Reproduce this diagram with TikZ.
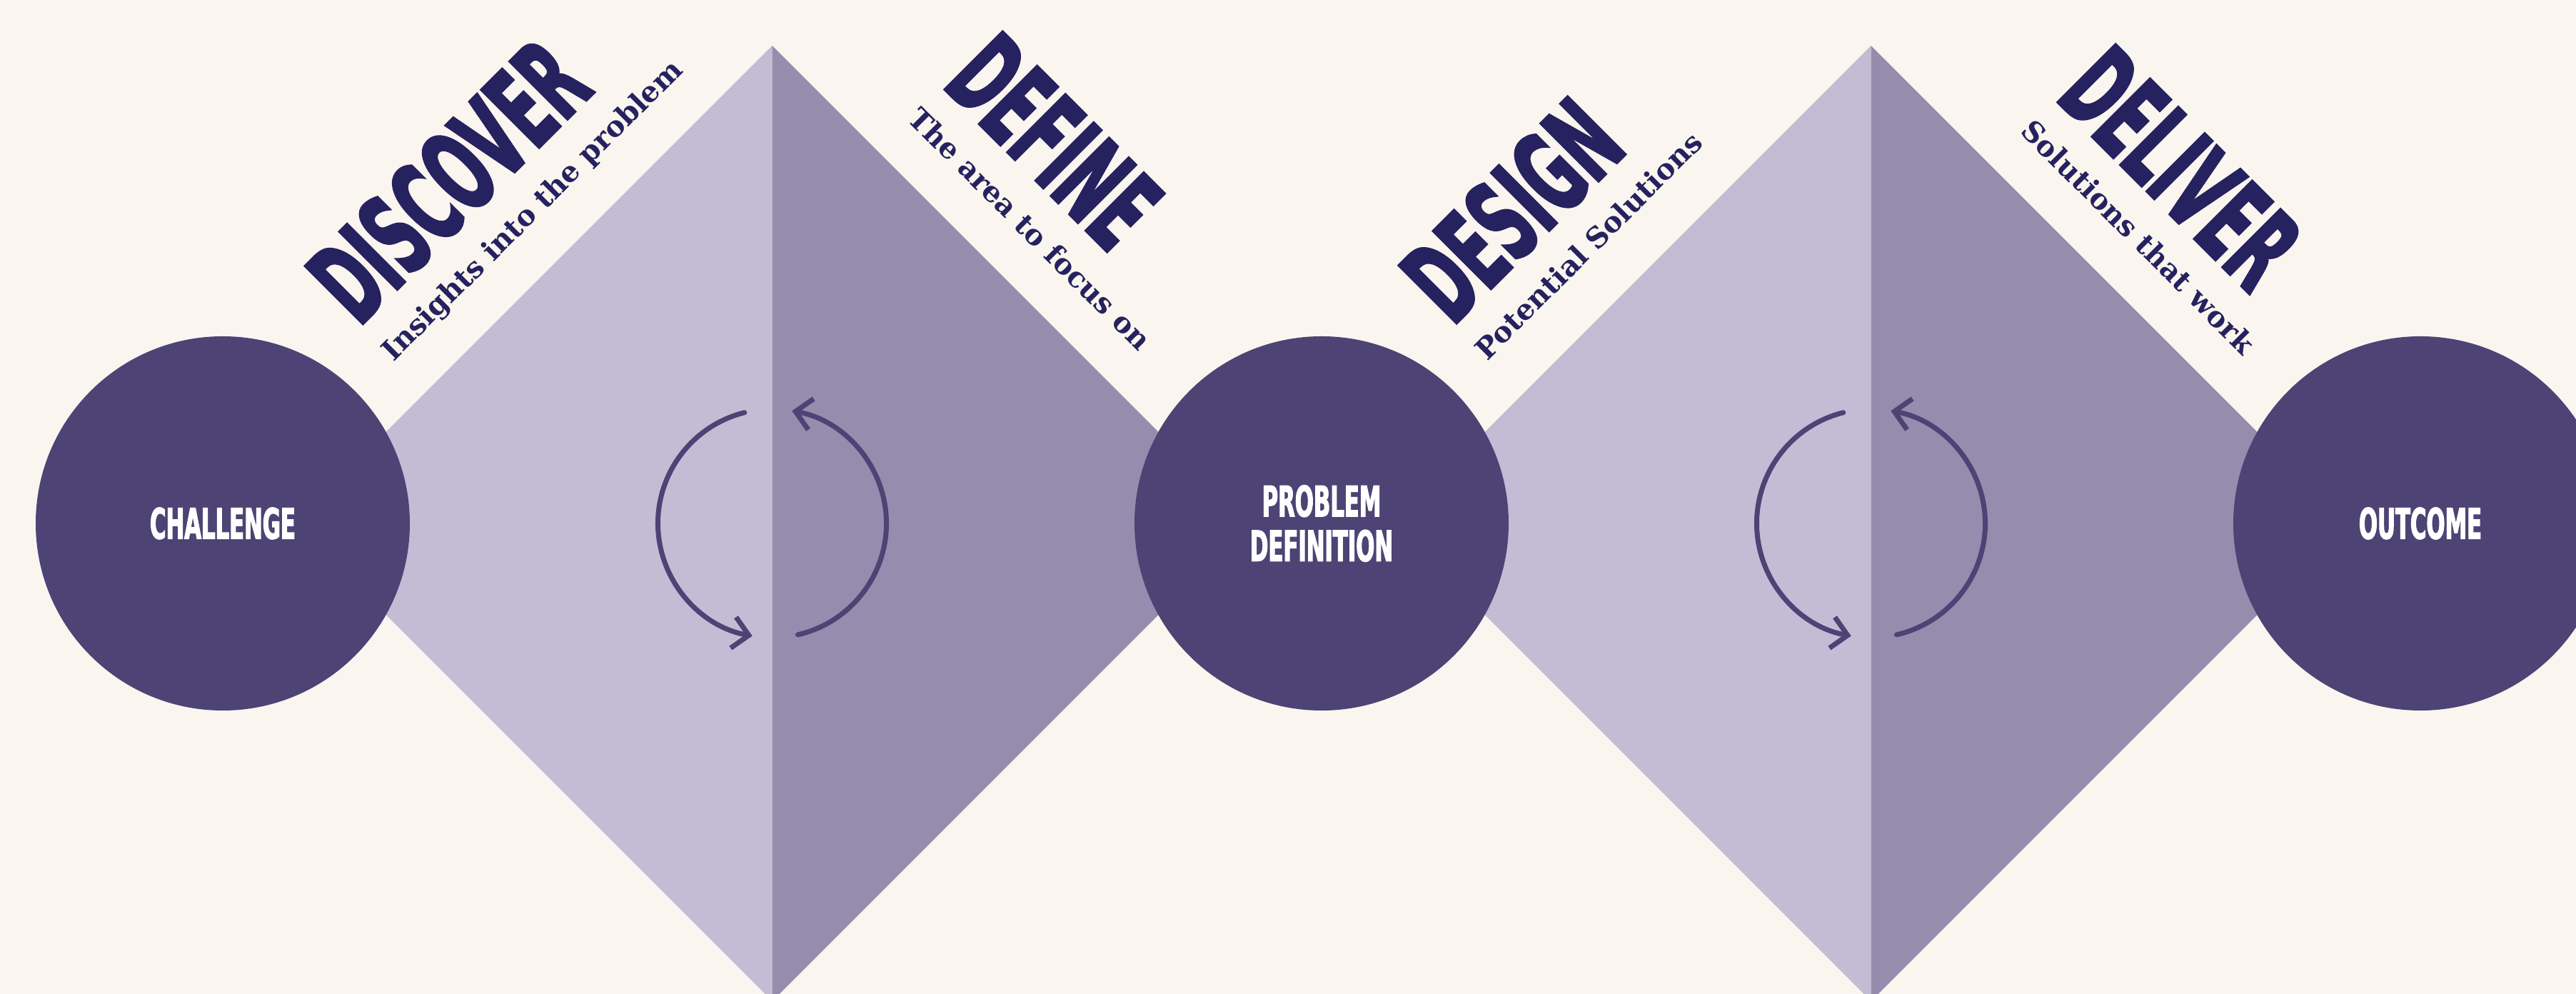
\documentclass[tikz,border=0pt]{standalone}
\usepackage{fontspec}
\usepackage{tikz}
\usetikzlibrary{arrows.meta, positioning, calc}
\newfontfamily\headfont[FakeStretch=0.52, FakeBold=2]{DejaVu Sans}
\newfontfamily\tagfont{DejaVu Serif}
\definecolor{ddpaper}{HTML}{FAF6EF}
\definecolor{ddlight}{HTML}{C2BDD5}
\definecolor{dddark}{HTML}{968CAE}
\definecolor{ddcircle}{HTML}{4D4375}
\definecolor{ddink}{HTML}{262260}

\begin{document}
\begin{tikzpicture}[
  ddtitle/.style={text=ddink, inner sep=0pt,
                  font=\headfont\bfseries\fontsize{44.9}{46}\selectfont},
  ddsub/.style={text=ddink, inner sep=0pt, anchor=base west,
                font=\tagfont\bfseries\fontsize{11.4}{13}\selectfont},
  ddstage/.style={circle, fill=ddcircle, minimum size=52.4mm, inner sep=0pt,
                  text=white, align=center,
                  font=\headfont\bfseries\fontsize{16.8}{17.8}\selectfont},
  ddloop/.style={draw=ddcircle, line width=0.7mm, line cap=round,
                 -{Straight Barb[length=2.2mm, width=4.4mm]}}
]

% ---------------------------------------------- the page
\clip (0,0) rectangle (36.08,13.92);
\fill[ddpaper] (0,0) rectangle (36.08,13.92);

% ---------------------------------------------- the two diamonds
\foreach \dx [count=\i] in {10.815, 26.205} {
  \coordinate (diam\i) at (\dx,6.59);
  \fill[ddlight] (\dx,13.28) -- (\dx-6.69,6.59) -- (\dx,-0.10) -- cycle;
  \fill[dddark]  (\dx,13.28) -- (\dx+6.69,6.59) -- (\dx,-0.10) -- cycle;
  \draw[ddloop] ($(diam\i)+(104:1.6)$) arc[start angle=104, end angle=260, radius=1.6];
  \draw[ddloop] ($(diam\i)+(-77:1.6)$) arc[start angle=-77, end angle=80, radius=1.6];
}

% ---------------------------------------------- the three stages
\node[ddstage] (challenge) at (3.12,6.59) {CHALLENGE};
\node[ddstage] (problem) at (18.51,6.59) {PROBLEM\\DEFINITION};
\node[ddstage] (outcome) at (33.90,6.59) {OUTCOME};

% ---------------------------------------------- the four phases
\node[ddtitle, rotate=45] (discover) at (6.28,11.39) {DISCOVER};
\node[ddsub, rotate=45] (discoversub)
  at ($(discover.base west)!6.8mm!-90:(discover.base east)$) {Insights into the problem};

\node[ddtitle, rotate=-45] (define) at (14.77,11.94) {DEFINE};
\node[ddsub, rotate=-45] (definesub)
  at ($(define.base west)!6.8mm!-90:(define.base east)$) {The area to focus on};

\node[ddtitle, rotate=45] (design) at (21.18,10.98) {DESIGN};
\node[ddsub, rotate=45] (designsub)
  at ($(design.base west)!6.8mm!-90:(design.base east)$) {Potential Solutions};

\node[ddtitle, rotate=-45] (deliver) at (30.55,11.57) {DELIVER};
\node[ddsub, rotate=-45] (deliversub)
  at ($(deliver.base west)!6.8mm!-90:(deliver.base east)$) {Solutions that work};

\end{tikzpicture}
\end{document}
